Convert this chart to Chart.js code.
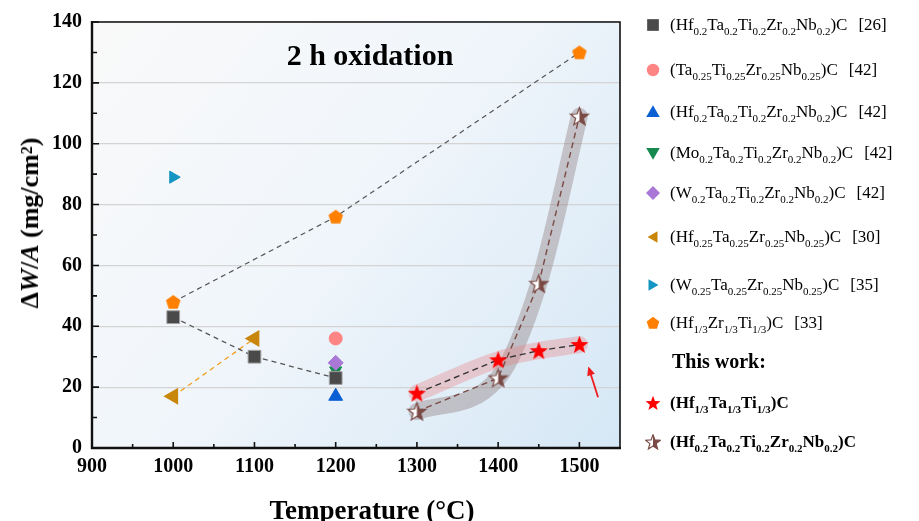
<!DOCTYPE html>
<html><head><meta charset="utf-8">
<script src="https://cdn.jsdelivr.net/npm/chart.js@4.4.1/dist/chart.umd.min.js"></script>
<style>
html,body{margin:0;padding:0;background:#fff;}
#wrap{position:relative;width:919px;height:521px;font-family:'Liberation Serif','Times New Roman',serif;color:#000;overflow:hidden;}
#c{position:absolute;left:0;top:0;}
.ytitle{position:absolute;left:30px;top:223px;transform:translate(-50%,-50%) rotate(-90deg);font-weight:bold;font-size:26px;white-space:nowrap;line-height:28px;}
.ytitle sup{font-size:16px;position:relative;top:-3px;vertical-align:top;}
.xtitle{position:absolute;left:372px;top:510px;transform:translate(-50%,-50%);font-weight:bold;font-size:27px;white-space:nowrap;}
.inner{position:absolute;left:370px;top:55px;transform:translate(-50%,-50%);font-weight:bold;font-size:30px;white-space:nowrap;}
.row{position:absolute;left:645px;height:20px;display:flex;align-items:center;font-size:17px;white-space:nowrap;}
.row canvas{width:16px;height:16px;margin-right:9px;}
.row .s{font-size:11px;position:relative;top:5px;}
.row .ref{margin-left:11px;}
.row.b{font-weight:bold;}
.tw{position:absolute;left:672px;font-weight:bold;font-size:20px;white-space:nowrap;}
</style>
</head><body>
<div id="wrap">
<canvas id="c" width="919" height="521"></canvas>
<div class="ytitle">Δ<i>W</i>/<i>A</i> (mg/cm<sup>2</sup>)</div>
<div class="xtitle">Temperature (°C)</div>
<div class="inner">2 h oxidation</div>
<div class="tw" id="tw">This work:</div>
</div>
<script>
// ---- axis ticks ----
const xTickValues = [900, 1000, 1100, 1200, 1300, 1400, 1500];
const xMinorTicks = [950, 1050, 1150, 1250, 1350, 1450];
const yTickValues = [0, 20, 40, 60, 80, 100, 120, 140];
const yMinorTicks = [10, 30, 50, 70, 90, 110, 130];

// ---- data (temperature °C, mass gain mg/cm2) ----
const ref26Temp = [1000, 1100, 1200];
const ref26Gain = [43, 30, 23];
const ref42TaTiZrNbTemp = [1200];
const ref42TaTiZrNbGain = [36];
const ref42HfTaTiZrNbTemp = [1200];
const ref42HfTaTiZrNbGain = [17];
const ref42MoTaTiZrNbTemp = [1200];
const ref42MoTaTiZrNbGain = [25.5];
const ref42WTaTiZrNbTemp = [1200];
const ref42WTaTiZrNbGain = [28];
const ref30Temp = [1000, 1100];
const ref30Gain = [17, 36];
const ref35Temp = [1000];
const ref35Gain = [89];
const ref33Temp = [1000, 1200, 1500];
const ref33Gain = [48, 76, 130];
const workHfTaTiTemp = [1300, 1400, 1450, 1500];
const workHfTaTiGain = [18, 29, 32, 34];
const workHEATemp = [1300, 1400, 1450, 1500];
const workHEAGain = [12, 23, 54, 109];

// annotation arrow (data units): tail, head
const arrowTail = [1523, 16.7];
const arrowHead = [1511, 26.8];

const legendLabels = [
  '(Hf<span class="s">0.2</span>Ta<span class="s">0.2</span>Ti<span class="s">0.2</span>Zr<span class="s">0.2</span>Nb<span class="s">0.2</span>)C<span class="ref">[26]</span>',
  '(Ta<span class="s">0.25</span>Ti<span class="s">0.25</span>Zr<span class="s">0.25</span>Nb<span class="s">0.25</span>)C<span class="ref">[42]</span>',
  '(Hf<span class="s">0.2</span>Ta<span class="s">0.2</span>Ti<span class="s">0.2</span>Zr<span class="s">0.2</span>Nb<span class="s">0.2</span>)C<span class="ref">[42]</span>',
  '(Mo<span class="s">0.2</span>Ta<span class="s">0.2</span>Ti<span class="s">0.2</span>Zr<span class="s">0.2</span>Nb<span class="s">0.2</span>)C<span class="ref">[42]</span>',
  '(W<span class="s">0.2</span>Ta<span class="s">0.2</span>Ti<span class="s">0.2</span>Zr<span class="s">0.2</span>Nb<span class="s">0.2</span>)C<span class="ref">[42]</span>',
  '(Hf<span class="s">0.25</span>Ta<span class="s">0.25</span>Zr<span class="s">0.25</span>Nb<span class="s">0.25</span>)C<span class="ref">[30]</span>',
  '(W<span class="s">0.25</span>Ta<span class="s">0.25</span>Zr<span class="s">0.25</span>Nb<span class="s">0.25</span>)C<span class="ref">[35]</span>',
  '(Hf<span class="s">1/3</span>Zr<span class="s">1/3</span>Ti<span class="s">1/3</span>)C<span class="ref">[33]</span>',
  '(Hf<span class="s">1/3</span>Ta<span class="s">1/3</span>Ti<span class="s">1/3</span>)C',
  '(Hf<span class="s">0.2</span>Ta<span class="s">0.2</span>Ti<span class="s">0.2</span>Zr<span class="s">0.2</span>Nb<span class="s">0.2</span>)C'
];
const legendRowY = [25, 70, 112, 153, 193, 237, 285, 323, 403, 442];
const thisWorkY = 363;

// ---- marker drawing ----
function starPath(c, cx, cy, R, r) {
  c.beginPath();
  for (let i = 0; i < 10; i++) {
    const a = -Math.PI / 2 + i * Math.PI / 5;
    const rr = i % 2 ? r : R;
    c.lineTo(cx + rr * Math.cos(a), cy + rr * Math.sin(a));
  }
  c.closePath();
}
function polyPath(c, n, cx, cy, R, rotDeg) {
  c.beginPath();
  for (let i = 0; i < n; i++) {
    const a = (rotDeg - 90) * Math.PI / 180 + i * 2 * Math.PI / n;
    c.lineTo(cx + R * Math.cos(a), cy + R * Math.sin(a));
  }
  c.closePath();
}
function drawShape(c, kind, color, cx, cy, R) {
  c.fillStyle = color;
  if (kind === 'rect') { c.fillRect(cx - R * 0.75, cy - R * 0.75, R * 1.5, R * 1.5); }
  else if (kind === 'circle') { c.beginPath(); c.arc(cx, cy, R * 0.8, 0, Math.PI * 2); c.fill(); }
  else if (kind === 'tri-up') { polyPath(c, 3, cx, cy + R * 0.15, R, 0); c.fill(); }
  else if (kind === 'tri-down') { polyPath(c, 3, cx, cy - R * 0.15, R, 180); c.fill(); }
  else if (kind === 'tri-left') { polyPath(c, 3, cx + R * 0.15, cy, R * 0.85, -90); c.fill(); }
  else if (kind === 'tri-right') { polyPath(c, 3, cx - R * 0.15, cy, R * 0.85, 90); c.fill(); }
  else if (kind === 'diamond') { polyPath(c, 4, cx, cy, R * 0.9, 0); c.fill(); }
  else if (kind === 'pentagon') { polyPath(c, 5, cx, cy + R * 0.06, R * 0.85, 0); c.fill(); }
  else if (kind === 'star') { starPath(c, cx, cy + R * 0.08, R, R * 0.42); c.fill(); }
  else if (kind === 'halfstar') {
    starPath(c, cx, cy + R * 0.08, R, R * 0.42);
    c.fillStyle = '#fff'; c.fill();
    c.save(); c.clip(); c.fillStyle = color; c.fillRect(cx, 0, 100, 100); c.restore();
    starPath(c, cx, cy + R * 0.08, R, R * 0.42);
    c.strokeStyle = color; c.lineWidth = 1.2; c.stroke();
  }
}
function makeMarker(kind, color, R) {
  const s = Math.ceil(2 * R + 4);
  const cv = document.createElement('canvas');
  cv.width = s; cv.height = s;
  drawShape(cv.getContext('2d'), kind, color, s / 2, s / 2, R);
  return cv;
}
const legendMarkers = [
  ['rect', '#4a4a4a'], ['circle', '#ff8585'], ['tri-up', '#0a5fd2'], ['tri-down', '#168a4e'],
  ['diamond', '#a978d6'], ['tri-left', '#c8860a'], ['tri-right', '#1595c2'], ['pentagon', '#ff8000'],
  ['star', '#ff0000'], ['halfstar', '#7a4a45']
];

// ---- HTML legend ----
const wrap = document.getElementById('wrap');
legendLabels.forEach((lab, i) => {
  const row = document.createElement('div');
  row.className = 'row' + (i >= 8 ? ' b' : '');
  row.style.top = (legendRowY[i] - 10) + 'px';
  const m = document.createElement('canvas');
  m.width = 16; m.height = 16;
  drawShape(m.getContext('2d'), legendMarkers[i][0], legendMarkers[i][1], 8, 8, 7.8);
  row.appendChild(m);
  const t = document.createElement('span');
  t.innerHTML = lab;
  row.appendChild(t);
  wrap.appendChild(row);
});
document.getElementById('tw').style.top = (thisWorkY - 13) + 'px';

// ---- chart ----
const pts = (T, W) => T.map((t, i) => ({ x: t, y: W[i] }));
const starRed = makeMarker('star', '#ff0000', 9.5);
const starHalf = makeMarker('halfstar', '#7a4a45', 9.5);
const pentagon = makeMarker('pentagon', '#ff8000', 9);

const datasets = [
  { label: 'ref26', data: pts(ref26Temp, ref26Gain), pointStyle: 'rect', pointRadius: 9,
    backgroundColor: '#4a4a4a', pointBorderColor: '#a0a0a0', pointBorderWidth: 1,
    showLine: true, borderColor: '#555', borderWidth: 1.3, borderDash: [5, 4], order: 0 },
  { label: 'ref42a', data: pts(ref42TaTiZrNbTemp, ref42TaTiZrNbGain), pointStyle: 'circle', pointRadius: 6.5,
    backgroundColor: '#ff8585', pointBorderColor: '#ff8585', order: 0 },
  { label: 'ref42b', data: pts(ref42HfTaTiZrNbTemp, ref42HfTaTiZrNbGain), pointStyle: 'triangle', pointRadius: 8,
    backgroundColor: '#0a5fd2', pointBorderColor: '#0a5fd2', order: 0 },
  { label: 'ref42c', data: pts(ref42MoTaTiZrNbTemp, ref42MoTaTiZrNbGain), pointStyle: 'triangle', pointRotation: 180, pointRadius: 7,
    backgroundColor: '#168a4e', pointBorderColor: '#168a4e', order: 2 },
  { label: 'ref42d', data: pts(ref42WTaTiZrNbTemp, ref42WTaTiZrNbGain), pointStyle: 'rectRot', pointRadius: 7.5,
    backgroundColor: '#a978d6', pointBorderColor: '#a978d6', order: 1 },
  { label: 'ref30', data: pts(ref30Temp, ref30Gain), pointStyle: 'triangle', pointRotation: -90, pointRadius: 8.5,
    backgroundColor: '#c8860a', pointBorderColor: '#c8860a',
    showLine: true, borderColor: '#f0a020', borderWidth: 1.3, borderDash: [5, 4], order: 0 },
  { label: 'ref35', data: pts(ref35Temp, ref35Gain), pointStyle: 'triangle', pointRotation: 90, pointRadius: 7,
    backgroundColor: '#1595c2', pointBorderColor: '#1595c2', order: 0 },
  { label: 'ref33', data: pts(ref33Temp, ref33Gain), pointStyle: pentagon, pointRadius: 9,
    backgroundColor: '#ff8000', showLine: true, borderColor: '#555', borderWidth: 1.2, borderDash: [5, 4], order: 0 },
  { label: 'workHfTaTi', data: pts(workHfTaTiTemp, workHfTaTiGain), pointStyle: starRed, pointRadius: 9,
    backgroundColor: '#ff0000', showLine: true, borderColor: '#333', borderWidth: 1.4, borderDash: [6, 4], order: 0 },
  { label: 'workHEA', data: pts(workHEATemp, workHEAGain), pointStyle: starHalf, pointRadius: 9,
    backgroundColor: '#7a4a45', showLine: true, borderColor: '#7a4a45', borderWidth: 1.4, borderDash: [6, 4], order: 0 },
  { type: 'line', label: 'bandHEA', data: pts(workHEATemp, workHEAGain), pointRadius: 0, fill: false,
    borderColor: 'rgba(125,100,100,0.33)', borderWidth: 17, borderCapStyle: 'round', borderJoinStyle: 'round',
    cubicInterpolationMode: 'monotone', order: 10 },
  { type: 'line', label: 'bandHfTaTi', data: pts(workHfTaTiTemp, workHfTaTiGain), pointRadius: 0, fill: false,
    borderColor: 'rgba(235,120,125,0.33)', borderWidth: 17, borderCapStyle: 'round', borderJoinStyle: 'round',
    cubicInterpolationMode: 'monotone', order: 9 }
];

const bgPlugin = {
  id: 'bg',
  beforeDraw(ch) {
    const a = ch.chartArea, c = ch.ctx;
    const g = c.createLinearGradient(a.left, a.top, a.right, a.bottom);
    g.addColorStop(0, '#f9f9f9');
    g.addColorStop(0.45, '#f1f6fb');
    g.addColorStop(1, '#d5e7f5');
    c.save(); c.fillStyle = g; c.fillRect(a.left, a.top, a.right - a.left, a.bottom - a.top); c.restore();
  }
};
const framePlugin = {
  id: 'frame',
  afterDraw(ch) {
    const a = ch.chartArea, c = ch.ctx, xs = ch.scales.x, ys = ch.scales.y;
    c.save();
    c.strokeStyle = '#111';
    c.lineWidth = 1.6;
    c.beginPath();
    c.moveTo(a.left, a.top); c.lineTo(a.right, a.top); c.lineTo(a.right, a.bottom);
    c.stroke();
    c.lineWidth = 2.4;
    c.beginPath();
    c.moveTo(a.left, a.top - 1); c.lineTo(a.left, a.bottom); c.lineTo(a.right + 1, a.bottom);
    c.stroke();
    c.lineWidth = 1.6;
    c.beginPath();
    xTickValues.forEach(v => { const p = xs.getPixelForValue(v); c.moveTo(p, a.bottom); c.lineTo(p, a.bottom - 6); });
    xMinorTicks.forEach(v => { const p = xs.getPixelForValue(v); c.moveTo(p, a.bottom); c.lineTo(p, a.bottom - 4); });
    yTickValues.forEach(v => { const p = ys.getPixelForValue(v); c.moveTo(a.left, p); c.lineTo(a.left + 7, p); });
    yMinorTicks.forEach(v => { const p = ys.getPixelForValue(v); c.moveTo(a.left, p); c.lineTo(a.left + 5, p); });
    c.stroke();
    // arrow annotation
    const tx = xs.getPixelForValue(arrowTail[0]), ty = ys.getPixelForValue(arrowTail[1]);
    const hx = xs.getPixelForValue(arrowHead[0]), hy = ys.getPixelForValue(arrowHead[1]);
    const ang = Math.atan2(hy - ty, hx - tx);
    c.strokeStyle = '#ee1c1c'; c.fillStyle = '#ee1c1c'; c.lineWidth = 1.8;
    c.beginPath(); c.moveTo(tx, ty); c.lineTo(hx - 6 * Math.cos(ang), hy - 6 * Math.sin(ang)); c.stroke();
    c.beginPath();
    c.moveTo(hx, hy);
    c.lineTo(hx - 9 * Math.cos(ang) + 4 * Math.sin(ang), hy - 9 * Math.sin(ang) - 4 * Math.cos(ang));
    c.lineTo(hx - 9 * Math.cos(ang) - 4 * Math.sin(ang), hy - 9 * Math.sin(ang) + 4 * Math.cos(ang));
    c.closePath(); c.fill();
    c.restore();
  }
};

const tickFont = { family: "'Liberation Serif', 'Times New Roman', serif", size: 20, weight: 'bold' };
new Chart(document.getElementById('c'), {
  type: 'scatter',
  data: { datasets },
  options: {
    responsive: false, animation: false, devicePixelRatio: 1,
    layout: { padding: { left: 0, right: 299, top: 20, bottom: 0 } },
    plugins: { legend: { display: false }, tooltip: { enabled: false } },
    scales: {
      x: {
        type: 'linear', min: 900, max: 1550,
        afterBuildTicks: s => { s.ticks = xTickValues.map(v => ({ value: v })); },
        afterFit: s => { s.height = 73; },
        grid: { display: false, drawTicks: false },
        border: { display: false },
        ticks: { padding: 7, font: tickFont, color: '#000', maxRotation: 0, autoSkip: false, callback: v => String(v) }
      },
      y: {
        type: 'linear', min: 0, max: 140,
        afterBuildTicks: s => { s.ticks = yTickValues.map(v => ({ value: v })); },
        afterFit: s => { s.width = 92; },
        grid: { color: '#d4d4d4', lineWidth: 1.2, drawTicks: false },
        border: { display: false },
        ticks: { padding: 10, font: tickFont, color: '#000', autoSkip: false, callback: v => String(v) }
      }
    }
  },
  plugins: [bgPlugin, framePlugin]
});
</script>
</body></html>
